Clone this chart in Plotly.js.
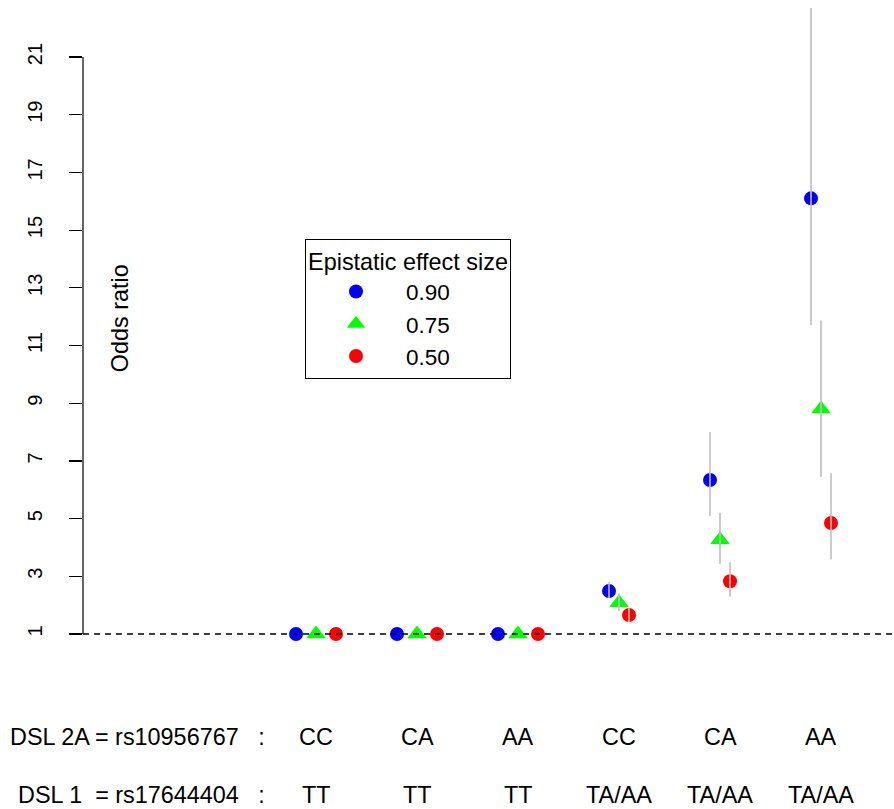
<!DOCTYPE html>
<html>
<head>
<meta charset="utf-8">
<script src="https://cdn.plot.ly/plotly-3.0.1.min.js"></script>
<style>html,body{margin:0;padding:0;background:#fff;}#chart{width:894px;height:809px;}</style>
</head>
<body>
<div id="chart"></div>
<script>
// ---- data ----
const groups = [1, 2, 3, 4, 5, 6];
const dsl2aLabels = ["CC", "CA", "AA", "CC", "CA", "AA"];
const dsl1Labels = ["TT", "TT", "TT", "TA/AA", "TA/AA", "TA/AA"];
const seriesNames = ["0.90", "0.75", "0.50"];
const or090 = [1, 1, 1, 2.49, 6.34, 16.1];
const lo090 = [null, null, null, 2.25, 5.09, 11.7];
const hi090 = [null, null, null, 2.80, 8.0, 22.7];
const or075 = [1, 1, 1, 2.08, 4.27, 8.8];
const lo075 = [null, null, null, 1.80, 3.43, 6.44];
const hi075 = [null, null, null, 2.40, 5.19, 11.87];
const or050 = [1, 1, 1, 1.66, 2.83, 4.85];
const lo050 = [null, null, null, 1.42, 2.29, 3.59];
const hi050 = [null, null, null, 1.90, 3.49, 6.57];
const yTicks = [1, 3, 5, 7, 9, 11, 13, 15, 17, 19, 21];
const rowLabels = ["DSL 2A = rs10956767\u00a0\u00a0\u00a0:", "DSL 1\u00a0\u00a0= rs17644404\u00a0\u00a0\u00a0:"];
const legendTitle = "Epistatic effect size";
const yLabel = "Odds ratio";
const refLine = 1;

// ---- styling ----
const FONT = "Liberation Sans, Arial, Helvetica, sans-serif";
const FS = 23.4;
const colors = ["#0000FF", "#00FF00", "#FF0000"];
const symbols = ["circle", "triangle-up", "circle"];
const sizes = [14, 17, 14];
const seriesOR = [or090, or075, or050];
const seriesLo = [lo090, lo075, lo050];
const seriesHi = [hi090, hi075, hi050];
const dodge = (g) => (g <= 3 ? 0.198 : 0.099);

const traces = [];
for (let s = 0; s < 3; s++) {
  const xs = groups.map(g => g + (s - 1) * dodge(g));
  traces.push({
    type: "scatter", mode: "markers", name: seriesNames[s],
    x: xs, y: seriesOR[s],
    marker: {color: colors[s], symbol: symbols[s], size: sizes[s], line: {width: 0}},
    cliponaxis: false, hoverinfo: "x+y"
  });
}
for (let s = 0; s < 3; s++) {
  const idx = groups.map((g, i) => i).filter(i => seriesLo[s][i] !== null);
  traces.push({
    type: "scatter", mode: "markers", showlegend: false, hoverinfo: "skip",
    x: idx.map(i => groups[i] + (s - 1) * dodge(groups[i])),
    y: idx.map(i => seriesOR[s][i]),
    marker: {opacity: 0, size: 1},
    error_y: {
      type: "data", symmetric: false,
      array: idx.map(i => seriesHi[s][i] - seriesOR[s][i]),
      arrayminus: idx.map(i => seriesOR[s][i] - seriesLo[s][i]),
      width: 0, thickness: 1.6, color: "#BEBEBE"
    }
  });
}

const pxToPaperY = (py) => (700 - py) / 700;
const pxToPaperX = (px) => (px - 83) / 811;
const txtFont = {size: FS, family: FONT, color: "#000"};
const annotations = [];
groups.forEach((g, i) => {
  annotations.push({x: g, xref: "x", y: pxToPaperY(737), yref: "paper", text: dsl2aLabels[i], showarrow: false, font: txtFont, xanchor: "center", yanchor: "middle"});
  annotations.push({x: g, xref: "x", y: pxToPaperY(795), yref: "paper", text: dsl1Labels[i], showarrow: false, font: txtFont, xanchor: "center", yanchor: "middle"});
});
annotations.push({x: pxToPaperX(267), xref: "paper", y: pxToPaperY(737), yref: "paper", text: rowLabels[0], showarrow: false, font: txtFont, xanchor: "right", yanchor: "middle"});
annotations.push({x: pxToPaperX(267), xref: "paper", y: pxToPaperY(795), yref: "paper", text: rowLabels[1], showarrow: false, font: txtFont, xanchor: "right", yanchor: "middle"});
annotations.push({x: -0.94, xref: "x", y: 11.95, yref: "y", text: yLabel, textangle: -90, showarrow: false, font: txtFont, xanchor: "center", yanchor: "middle"});

const layout = {
  width: 894, height: 809,
  margin: {l: 83, r: 0, t: 0, b: 109, pad: 0},
  paper_bgcolor: "#fff", plot_bgcolor: "#fff",
  font: {family: FONT, color: "#000"},
  showlegend: true,
  legend: {
    x: pxToPaperX(305), y: pxToPaperY(239), xanchor: "left", yanchor: "top",
    bordercolor: "#000", borderwidth: 1, bgcolor: "#fff",
    font: {size: 22.5, family: FONT, color: "#000"},
    title: {text: legendTitle, side: "top center", font: txtFont},
    itemwidth: 90
  },
  xaxis: {range: [1 - 233 / 101, 6 + 73 / 101], showgrid: false, zeroline: false, showline: false, showticklabels: false, ticks: "", fixedrange: true},
  yaxis: {range: [1 - 66 / 28.85, 1 + 634 / 28.85], showgrid: false, zeroline: false, showline: false,
    tickvals: yTicks, ticktext: yTicks.map(String), ticks: "outside", ticklen: 13, tickwidth: 1.2, tickcolor: "#000",
    tickangle: -90, ticklabelstandoff: 19, tickfont: {size: 20, family: FONT, color: "#000"}, fixedrange: true},
  shapes: [
    {type: "line", xref: "paper", x0: 0, x1: 1, yref: "y", y0: refLine, y1: refLine, line: {color: "#000", width: 1.5, dash: "6px,5px"}},
    {type: "line", xref: "paper", x0: 0, x1: 0, yref: "y", y0: yTicks[0], y1: yTicks[yTicks.length - 1], line: {color: "#000", width: 1.2}}
  ],
  annotations: annotations
};

Plotly.newPlot("chart", traces, layout, {displayModeBar: false, staticPlot: true});
</script>
</body>
</html>
